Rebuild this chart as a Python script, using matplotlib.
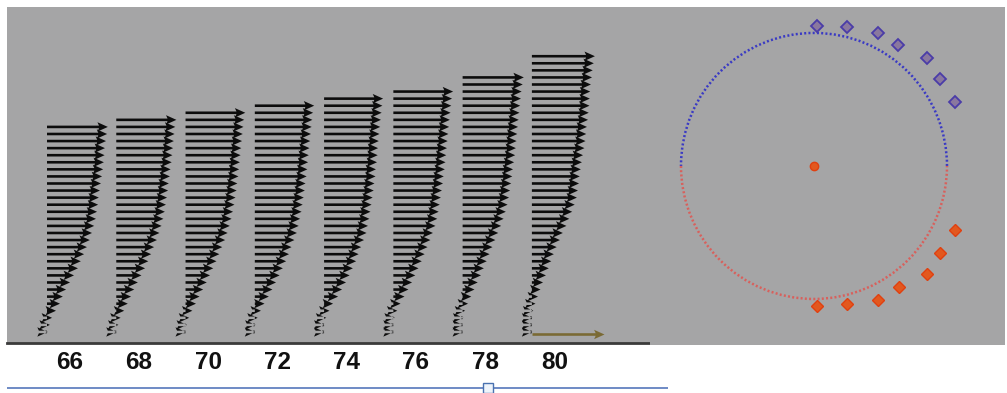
import numpy as np
import matplotlib
matplotlib.use("Agg")
import matplotlib.pyplot as plt
from matplotlib.patches import Arc

# wind profiles at each station (m/s), lowest level first, levels every 10 m
stations = [66, 68, 70, 72, 74, 76, 78, 80]
level_step = 10
profiles = {
    66: [0.1, 0.4, 0.7, 1.25, 1.8, 2.2, 2.65, 3.2, 3.75, 4.3, 4.7, 5.15, 5.55, 5.95, 6.25,
         6.55, 6.8, 6.95, 7.1, 7.2, 7.35, 7.5, 7.65, 7.8, 7.9, 8.0, 8.05, 8.2, 8.35, 8.45],
    68: [0.05, 0.3, 0.6, 1.1, 1.6, 2.05, 2.5, 3.0, 3.5, 4.0, 4.45, 4.85, 5.25, 5.65, 6.0,
         6.3, 6.55, 6.75, 6.9, 7.05, 7.2, 7.3, 7.45, 7.55, 7.7, 7.8, 7.9, 8.0, 8.1, 8.2, 8.35],
    70: [0.05, 0.2, 0.5, 0.95, 1.45, 1.95, 2.45, 2.95, 3.4, 3.85, 4.3, 4.7, 5.1, 5.5, 5.85,
         6.15, 6.4, 6.6, 6.8, 6.95, 7.1, 7.2, 7.35, 7.45, 7.55, 7.65, 7.75, 7.85, 7.95, 8.05,
         8.15, 8.3],
    72: [0.05, 0.1, 0.4, 0.85, 1.35, 1.95, 2.45, 2.95, 3.45, 3.9, 4.35, 4.75, 5.1, 5.5, 5.85,
         6.1, 6.3, 6.5, 6.65, 6.8, 6.95, 7.05, 7.2, 7.3, 7.4, 7.5, 7.6, 7.7, 7.8, 7.9, 8.0,
         8.1, 8.25],
    74: [0.05, 0.05, 0.3, 0.75, 1.25, 1.95, 2.5, 3.05, 3.55, 4.0, 4.45, 4.8, 5.15, 5.55, 5.9,
         6.1, 6.3, 6.45, 6.6, 6.75, 6.9, 7.0, 7.15, 7.2, 7.35, 7.45, 7.5, 7.6, 7.7, 7.8, 7.9,
         8.0, 8.1, 8.2],
    76: [0.05, 0.05, 0.2, 0.55, 1.0, 1.55, 2.1, 2.6, 3.05, 3.5, 3.95, 4.35, 4.75, 5.15, 5.5,
         5.85, 6.1, 6.3, 6.45, 6.6, 6.75, 6.9, 7.0, 7.15, 7.25, 7.35, 7.45, 7.55, 7.65, 7.75,
         7.85, 7.95, 8.05, 8.15, 8.3],
    78: [0.05, 0.05, 0.1, 0.35, 0.75, 1.2, 1.65, 2.1, 2.55, 2.95, 3.35, 3.75, 4.15, 4.55, 4.95,
         5.35, 5.7, 6.0, 6.25, 6.45, 6.6, 6.75, 6.9, 7.0, 7.15, 7.3, 7.4, 7.5, 7.6, 7.7, 7.8,
         7.9, 8.0, 8.1, 8.2, 8.35, 8.5],
    80: [0.05, 0.05, 0.05, 0.2, 0.5, 0.85, 1.2, 1.55, 1.95, 2.35, 2.7, 3.05, 3.45, 3.9, 4.3,
         4.8, 5.2, 5.6, 5.95, 6.25, 6.4, 6.55, 6.65, 6.8, 6.95, 7.1, 7.3, 7.45, 7.55, 7.65,
         7.8, 7.9, 8.0, 8.05, 8.1, 8.2, 8.35, 8.45, 8.6, 8.75],
}
ref_speed = 10
ref_height = 7

# hodograph style panel (unit circle coords)
upper_x = [0.023, 0.248, 0.481, 0.632, 0.850, 0.947, 1.060]
upper_y = [1.053, 1.045, 1.000, 0.910, 0.812, 0.654, 0.481]
lower_x = [1.060, 0.947, 0.850, 0.639, 0.481, 0.248, 0.023]
lower_y = [-0.481, -0.654, -0.812, -0.910, -1.008, -1.038, -1.053]
centre = (0.0, 0.0)

slider_value = 0.728

bg = "#a5a5a6"
fig = plt.figure(figsize=(10.07, 3.93), dpi=100)

ax = fig.add_axes([7 / 1007, 50 / 393, 643 / 1007, 336 / 393])
ax.set_facecolor(bg)
xs, zs, us = [], [], []
for s in stations:
    for k, u in enumerate(profiles[s]):
        xs.append(s)
        zs.append((k + 1) * level_step)
        us.append(u)
q = ax.quiver(xs, zs, us, np.zeros(len(us)), pivot="tail", angles="xy",
              scale_units="x", scale=4.81, units="dots", width=2.6,
              headwidth=3.6, headlength=4.0, headaxislength=3.4,
              minshaft=0, minlength=0, color="#0c0c0c")
ax.quiverkey(q, 80, ref_height, ref_speed, "", coordinates="data", labelpos="W",
             color="#7a6a34")
ax.set_xlim(64.845, 83.41)
ax.set_ylim(-5.6, 469.6)
ax.set_xticks(np.array(stations) + 0.65)
ax.set_xticklabels([str(s) for s in stations], fontsize=17.5, fontweight="bold",
                   family=["Liberation Sans", "DejaVu Sans"], color="#111111")
ax.set_yticks([])
ax.tick_params(axis="x", length=0, pad=5.5)
for side in ["top", "left", "right"]:
    ax.spines[side].set_visible(False)
ax.spines["bottom"].set_color("#3a3a3a")
ax.spines["bottom"].set_linewidth(2)

ax2 = fig.add_axes([650 / 1007, 48 / 393, 355 / 1007, 338 / 393])
ax2.set_facecolor(bg)
ax2.add_patch(Arc(centre, 2, 2, theta1=0, theta2=180, color="#3a3ac4",
                  linewidth=1.8, linestyle=(0, (0.8, 0.9))))
ax2.add_patch(Arc(centre, 2, 2, theta1=180, theta2=360, color="#d8605c",
                  linewidth=1.8, linestyle=(0, (0.8, 0.9))))
ax2.plot(upper_x, upper_y, "D", ms=6.5, mfc="#8a789e", mec="#4a3ca8", mew=1.3)
ax2.plot(lower_x, lower_y, "D", ms=6.5, mfc="#e2581f", mec="#e04010", mew=1.0)
ax2.plot(*centre, "o", ms=6, mfc="#e2581f", mec="#e04010")
ax2.set_xlim(-1.233, 1.436)
ax2.set_ylim(-1.346, 1.195)
ax2.set_xticks([])
ax2.set_yticks([])
for sp in ax2.spines.values():
    sp.set_visible(False)

ax3 = fig.add_axes([7 / 1007, 0, 661 / 1007, 15 / 393])
ax3.set_xlim(0, 1)
ax3.set_ylim(0, 15)
ax3.plot([0, 1], [5, 5], color="#5577bb", lw=1.2)
ax3.plot(slider_value, 5, "s", ms=7.5, mfc="#eef4fb", mec="#4a72b0", mew=1)
ax3.axis("off")

fig.savefig("out.png", dpi=100)
